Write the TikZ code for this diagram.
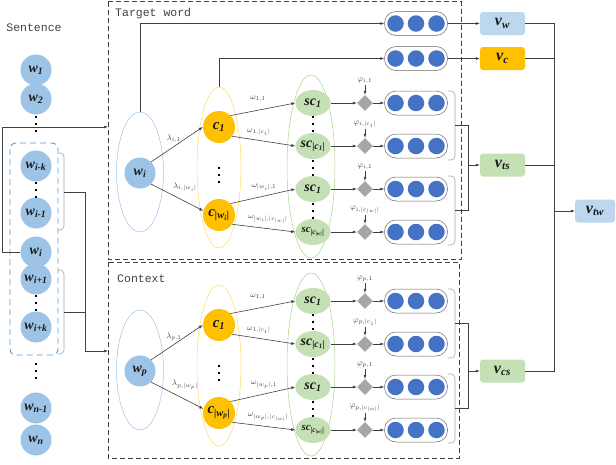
\documentclass[tikz,border=0pt]{standalone}
\usepackage{fontspec}
\setmainfont{Liberation Serif}
\setmonofont{Liberation Mono}
\usetikzlibrary{shapes.geometric,arrows.meta,calc}
\definecolor{lc}{HTML}{404040}
\definecolor{lb}{HTML}{9DC3E6}
\definecolor{vb}{HTML}{BDD7EE}
\definecolor{yel}{HTML}{FFC000}
\definecolor{grn}{HTML}{C5E0B4}
\definecolor{grnl}{HTML}{A9D18E}
\definecolor{yell}{HTML}{FFD966}
\definecolor{bubc}{HTML}{4472C4}
\definecolor{dg}{HTML}{A6A6A6}
\definecolor{dbl}{HTML}{5B9BD5}
\definecolor{txt}{HTML}{1A1A1A}
\newcommand{\bi}[1]{\textbf{\textit{#1}}}
\newcommand{\lab}[2]{\bi{#1}\textsubscript{\bi{#2}}}
\newcommand{\vdts}[2]{\foreach \k in {-7,0,7}{\fill[black] (#1-1.3,#2+\k-1.3) rectangle ++(2.6,2.6);}}
\newcommand{\bubs}[3]{\node[bubg] (#1) at (#2,#3) {};\foreach \k in {-20.5,0,20.5}{\node[bdot] at (#2+\k,#3) {};}}
\newcommand{\sect}[3]{%
\begin{scope}[yshift=-#2pt]
\node[wel] (#1we) at (140,172) {};
\node[cel] (#1ce) at (219,167.5) {};
\node[sel] (#1se) at (311,166.5) {};
\node[wc] (#1w) at (140,173) {\lab{w}{#3}};
\node[cc] (#1c1) at (219,127) {\lab{c}{1}};
\node[cc] (#1c2) at (219,215) {\lab{c}{|w\textsubscript{#3}|}};
\node[scn] (#1s1) at (313,103) {\lab{sc}{1}};
\node[scn] (#1s2) at (313,146) {\lab{sc}{|c\textsubscript{1}|}};
\node[scn] (#1s3) at (313,189) {\lab{sc}{1}};
\node[scn,font=\fontsize{11}{11}\selectfont] (#1s4) at (313,232) {\lab{sc}{|c\textsubscript{|w|}|}};
\vdts{219}{175}\vdts{313}{124}\vdts{313}{168}\vdts{313}{211}
\draw[arr] (#1w.45) -- (#1c1.west);
\draw[arr] (#1w.-45) -- (#1c2.165);
\node[elab] (#1l1) at (174,139) {$\lambda_{#3,1}$};
\node[elab] (#1l2) at (185,187) {$\lambda_{#3,|w_#3|}$};
\draw[arr] (#1c1.45) -- (#1s1.west);
\draw[arr] (#1c1.-35) -- (#1s2.west);
\draw[arr] (#1c2.45) -- (#1s3.west);
\draw[arr] (#1c2.-35) -- (#1s4.west);
\node[elab] (#1o1) at (258,99) {$\omega_{1,1}$};
\node[elab] (#1o2) at (259,132) {$\omega_{1,|c_1|}$};
\node[elab] (#1o3) at (264,187) {$\omega_{|w_#3|,1}$};
\node[elab] (#1o4) at (268,219.5) {$\omega_{|w_#3|,|c_{|w|}|}$};
\node[dia] (#1d1) at (365,103) {};
\node[dia] (#1d2) at (365,146) {};
\node[dia] (#1d3) at (365,189) {};
\node[dia] (#1d4) at (365,232) {};
\node[elab] (#1f1) at (365,81) {$\varphi_{#3,1}$};
\node[elab] (#1f2) at (365,124) {$\varphi_{#3,|c_1|}$};
\node[elab] (#1f3) at (365,167) {$\varphi_{#3,1}$};
\node[elab] (#1f4) at (365,210) {$\varphi_{#3,|c_{|w|}|}$};
\bubs{#1b1}{416}{103}
\bubs{#1b2}{416}{146}
\bubs{#1b3}{416}{189}
\bubs{#1b4}{416}{232}
\foreach \r in {1,2,3,4}{
 \draw[arr] (#1s\r) -- (#1d\r);
 \draw[arr] (#1d\r) -- (#1b\r);
 \draw[arr] (#1f\r.south) -- (#1d\r.north);
}
\draw[brk] (448,91) -- (455,91) -- (455,160) -- (448,160);
\draw[brk] (448,176) -- (455,176) -- (455,245) -- (448,245);
\coordinate (#1m1) at (455,125.5);
\coordinate (#1m2) at (455,210.5);
\coordinate (#1mx) at (468,125.5);
\draw[ln] (#1m1) -- (#1mx) -- (468,210.5) -- (#1m2);
\end{scope}}
\begin{document}
\begin{tikzpicture}[x=1pt,y=-1pt,
  ln/.style={draw=lc,line width=0.6pt},
  arr/.style={ln,-{Latex[length=4pt,width=3pt]}},
  wc/.style={circle,fill=lb,minimum size=31pt,inner sep=0pt,text=txt,font=\fontsize{14}{14}\selectfont},
  cc/.style={circle,fill=yel,minimum size=32pt,inner sep=0pt,text=txt,font=\fontsize{15}{15}\selectfont},
  scn/.style={ellipse,fill=grn,minimum width=35pt,minimum height=26pt,inner sep=0pt,text=txt,font=\fontsize{14}{14}\selectfont},
  wel/.style={ellipse,draw=lb,line width=0.5pt,minimum width=47pt,minimum height=120pt,inner sep=0pt,outer sep=0pt},
  cel/.style={ellipse,draw=yell,line width=0.5pt,minimum width=44pt,minimum height=161pt,inner sep=0pt,outer sep=0pt},
  sel/.style={ellipse,draw=grnl,line width=0.5pt,minimum width=48pt,minimum height=183pt,inner sep=0pt,outer sep=0pt},
  dia/.style={diamond,fill=dg,minimum width=16pt,minimum height=16pt,inner sep=0pt},
  bubg/.style={draw=lc!80,line width=0.5pt,rounded corners=11.5pt,minimum width=63pt,minimum height=24pt,inner sep=0pt},
  bdot/.style={circle,fill=bubc,minimum size=16.5pt,inner sep=0pt},
  elab/.style={font=\fontsize{8}{8}\selectfont,inner sep=1pt,text=lc},
  brk/.style={draw=dg,line width=0.6pt,rounded corners=4pt},
  vbox/.style={rounded corners=3pt,minimum width=45pt,minimum height=23pt,inner sep=0pt,text=txt,font=\fontsize{16}{16}\selectfont},
  dbox/.style={draw=lc,line width=0.8pt,dash pattern=on 5pt off 3pt},
  mono/.style={font=\ttfamily\fontsize{11.5}{11.5}\selectfont,text=lc,inner sep=0pt}
]
\useasboundingbox (0,0) rectangle (616,464);
% boxes
\draw[dbox] (108,1.5) rectangle (461,259);
\draw[dbox] (108,262) rectangle (459,458);
\node[mono,anchor=west] (tt) at (115,14) {Target word};
\node[mono,anchor=west] (ct) at (117,279) {Context};
% sentence column
\node[mono] (st) at (34,28) {Sentence};
\draw[draw=dbl,line width=0.9pt,dash pattern=on 6pt off 4pt,rounded corners=6pt] (10,143) rectangle (58,355);
\node[wc] (l1) at (36,70) {\lab{w}{1}};
\node[wc] (l2) at (36,99) {\lab{w}{2}};
\node[wc] (l3) at (36,166) {\lab{w}{i-k}};
\node[wc] (l4) at (36,213) {\lab{w}{i-1}};
\node[wc] (l5) at (36,252) {\lab{w}{i}};
\node[wc] (l6) at (36,279) {\lab{w}{i+1}};
\node[wc] (l7) at (36,327) {\lab{w}{i+k}};
\node[wc] (l8) at (36,408) {\lab{w}{n-1}};
\node[wc] (l9) at (36,440) {\lab{w}{n}};
\vdts{36}{124}\vdts{36}{190}\vdts{36}{303}\vdts{36}{371}
\draw[brk] (58,153) -- (64,153) -- (64,230) -- (58,230);
\draw[brk] (58,270) -- (64,270) -- (64,354) -- (58,354);
\coordinate (lbu) at (64,192);
\coordinate (lbl) at (64,312);
\coordinate (tin) at (108,127);
\coordinate (cin) at (108,351);
\draw[arr] (l5.west) -- (2,252) |- (tin);
\draw[arr] (lbu) -- (85,192) |- (cin);
\draw[ln] (lbl) -- (85,312);
% sections
\sect{t}{0}{i}
\sect{p}{198}{p}
% top bubbles
\bubs{g1}{416}{23.5}
\bubs{g2}{416}{58.5}
\draw[arr] (twe.north) |- (g1.west);
\draw[arr] (tce.north) |- (g2.west);
% v boxes
\node[vbox,fill=vb] (vw) at (502.5,23.5) {\lab{v}{w}};
\node[vbox,fill=yel] (vc) at (502.5,58.5) {\lab{v}{c}};
\node[vbox,fill=grn] (vts) at (502.5,165) {\lab{v}{ts}};
\node[vbox,fill=grn] (vcs) at (502.5,371) {\lab{v}{cs}};
\node[vbox,fill=vb,minimum width=40pt] (vtw) at (595,211) {\lab{v}{tw}};
\draw[arr] (g1) -- (vw);
\draw[arr] (g2) -- (vc);
\draw[arr] (vts.west -| tmx) -- (vts);
\draw[arr] (vcs.west -| pmx) -- (vcs);
\coordinate (rj) at (554,211);
\draw[ln] (vw.east) -| (rj);
\draw[ln] (vcs.east) -| (rj);
\draw[ln] (vc.east) -- (vc.east -| rj);
\draw[ln] (vts.east) -- (vts.east -| rj);
\draw[arr] (rj) -- (vtw);
\end{tikzpicture}
\end{document}
